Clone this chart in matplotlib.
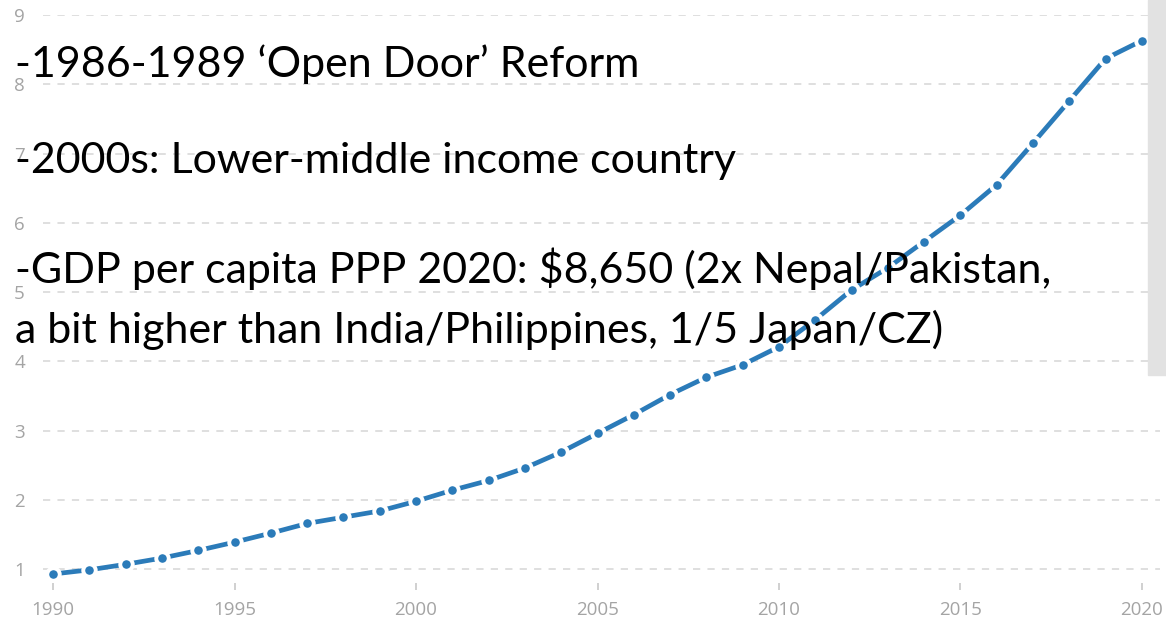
import numpy as np
import matplotlib.pyplot as plt
from matplotlib.patches import Rectangle

# GDP per capita, PPP (thousands)
years = list(range(1990, 2021))
gdp = [0.93, 0.99, 1.07, 1.16, 1.27, 1.39, 1.52, 1.66, 1.75, 1.84,
       1.98, 2.14, 2.28, 2.46, 2.69, 2.96, 3.23, 3.52, 3.77, 3.95,
       4.21, 4.60, 5.03, 5.35, 5.73, 6.11, 6.55, 7.15, 7.76, 8.37,
       8.63]
xticks = [1990, 1995, 2000, 2005, 2010, 2015, 2020]
yticks = [1, 2, 3, 4, 5, 6, 7, 8, 9]
notes = ["-1986-1989 \u2018Open Door\u2019 Reform",
         "-2000s: Lower-middle income country",
         "-GDP per capita PPP 2020: $8,650 (2x Nepal/Pakistan,",
         "a bit higher than India/Philippines, 1/5 Japan/CZ)"]

W, H = 1166, 619
fig = plt.figure(figsize=(W / 100, H / 100), dpi=100)
# axes box in pixels: left 43, right 1160, top 15, bottom 583
ax = fig.add_axes([43 / W, 1 - 583 / H, (1160 - 43) / W, (583 - 15) / H])

ax.plot(years, gdp, color='#2b7bb9', lw=3.4, solid_capstyle='butt',
        marker='o', ms=9.0, mfc='#2b7bb9', mec='white', mew=2.8, zorder=3)

ax.set_xlim(1989.72, 2020.5)
ax.set_ylim(0.8, 9)
ax.set_xticks(xticks, labels=[str(x) for x in xticks],
              fontsize=13.5, fontfamily='Open Sans', color='#a4a4a4')
ax.set_yticks(yticks, labels=[str(y) for y in yticks],
              fontsize=13.5, fontfamily='Open Sans', color='#a4a4a4')
ax.grid(axis='y', color='#dcdcdc', lw=1.3, linestyle=(0, (4, 4)))
ax.set_axisbelow(True)
for s in ax.spines.values():
    s.set_visible(False)

ax.tick_params(axis='x', color='#c8c8c8', length=5, width=1.2, pad=8)
ax.tick_params(axis='y', length=0, pad=13)

# grey strip on the right edge
fig.patches.append(Rectangle((1148 / W, 1 - 375 / H), 18 / W, 375 / H,
                             transform=fig.transFigure, color='#e2e2e2',
                             zorder=5))

# overlay text
baselines = [77, 173, 283, 343]
for txt, yb in zip(notes, baselines):
    fig.text(15 / W, 1 - yb / H, txt, fontsize=31, family='Lato',
             color='black', va='baseline', ha='left', zorder=6)

fig.savefig('out.png', dpi=100, facecolor='white')
